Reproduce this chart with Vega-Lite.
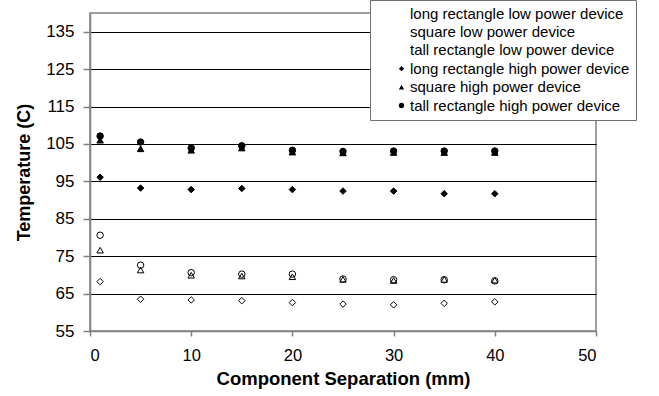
{
  "$schema": "https://vega.github.io/schema/vega-lite/v6.json",
  "autosize": "none",
  "width": 506,
  "height": 318,
  "padding": {"left": 90, "top": 13, "right": 63, "bottom": 65},
  "background": "white",
  "config": {
    "view": {"stroke": "#808080", "strokeWidth": 1.5},
    "font": "Liberation Sans"
  },
  "data": {
    "values": [
      {"sep": 1, "temp": 68.2, "series": "long rectangle low power device"},
      {"sep": 5, "temp": 63.5, "series": "long rectangle low power device"},
      {"sep": 10, "temp": 63.3, "series": "long rectangle low power device"},
      {"sep": 15, "temp": 63.1, "series": "long rectangle low power device"},
      {"sep": 20, "temp": 62.6, "series": "long rectangle low power device"},
      {"sep": 25, "temp": 62.2, "series": "long rectangle low power device"},
      {"sep": 30, "temp": 62.0, "series": "long rectangle low power device"},
      {"sep": 35, "temp": 62.4, "series": "long rectangle low power device"},
      {"sep": 40, "temp": 62.8, "series": "long rectangle low power device"},
      {"sep": 1, "temp": 76.6, "series": "square low power device"},
      {"sep": 5, "temp": 71.3, "series": "square low power device"},
      {"sep": 10, "temp": 69.9, "series": "square low power device"},
      {"sep": 15, "temp": 69.7, "series": "square low power device"},
      {"sep": 20, "temp": 69.5, "series": "square low power device"},
      {"sep": 25, "temp": 68.8, "series": "square low power device"},
      {"sep": 30, "temp": 68.5, "series": "square low power device"},
      {"sep": 35, "temp": 68.8, "series": "square low power device"},
      {"sep": 40, "temp": 68.6, "series": "square low power device"},
      {"sep": 1, "temp": 80.6, "series": "tall rectangle low power device"},
      {"sep": 5, "temp": 72.6, "series": "tall rectangle low power device"},
      {"sep": 10, "temp": 70.6, "series": "tall rectangle low power device"},
      {"sep": 15, "temp": 70.2, "series": "tall rectangle low power device"},
      {"sep": 20, "temp": 70.2, "series": "tall rectangle low power device"},
      {"sep": 25, "temp": 68.9, "series": "tall rectangle low power device"},
      {"sep": 30, "temp": 68.7, "series": "tall rectangle low power device"},
      {"sep": 35, "temp": 68.7, "series": "tall rectangle low power device"},
      {"sep": 40, "temp": 68.4, "series": "tall rectangle low power device"},
      {"sep": 1, "temp": 96.1, "series": "long rectangle high power device"},
      {"sep": 5, "temp": 93.2, "series": "long rectangle high power device"},
      {"sep": 10, "temp": 92.8, "series": "long rectangle high power device"},
      {"sep": 15, "temp": 93.1, "series": "long rectangle high power device"},
      {"sep": 20, "temp": 92.8, "series": "long rectangle high power device"},
      {"sep": 25, "temp": 92.4, "series": "long rectangle high power device"},
      {"sep": 30, "temp": 92.4, "series": "long rectangle high power device"},
      {"sep": 35, "temp": 91.7, "series": "long rectangle high power device"},
      {"sep": 40, "temp": 91.7, "series": "long rectangle high power device"},
      {"sep": 1, "temp": 106.0, "series": "square high power device"},
      {"sep": 5, "temp": 103.7, "series": "square high power device"},
      {"sep": 10, "temp": 103.3, "series": "square high power device"},
      {"sep": 15, "temp": 103.9, "series": "square high power device"},
      {"sep": 20, "temp": 102.8, "series": "square high power device"},
      {"sep": 25, "temp": 102.6, "series": "square high power device"},
      {"sep": 30, "temp": 102.7, "series": "square high power device"},
      {"sep": 35, "temp": 102.7, "series": "square high power device"},
      {"sep": 40, "temp": 102.7, "series": "square high power device"},
      {"sep": 1, "temp": 107.1, "series": "tall rectangle high power device"},
      {"sep": 5, "temp": 105.5, "series": "tall rectangle high power device"},
      {"sep": 10, "temp": 103.9, "series": "tall rectangle high power device"},
      {"sep": 15, "temp": 104.5, "series": "tall rectangle high power device"},
      {"sep": 20, "temp": 103.3, "series": "tall rectangle high power device"},
      {"sep": 25, "temp": 103.0, "series": "tall rectangle high power device"},
      {"sep": 30, "temp": 103.1, "series": "tall rectangle high power device"},
      {"sep": 35, "temp": 103.1, "series": "tall rectangle high power device"},
      {"sep": 40, "temp": 103.1, "series": "tall rectangle high power device"}
    ]
  },
  "mark": {"type": "point", "stroke": "black", "strokeWidth": 1, "opacity": 1, "size": 42},
  "encoding": {
    "x": {
      "field": "sep", "type": "quantitative",
      "scale": {"domain": [0, 50], "nice": false},
      "axis": {
        "title": "Component Separation (mm)", "values": [0, 10, 20, 30, 40, 50],
        "grid": false, "domainColor": "#808080", "domainWidth": 1.5, "tickColor": "#808080", "tickSize": 5, "tickWidth": 1.5,
        "labelFontSize": 16.5, "labelColor": "black", "labelPadding": 11,
        "titleFontSize": 18.5, "titleFontWeight": "bold", "titleColor": "black", "titlePadding": 6
      }
    },
    "y": {
      "field": "temp", "type": "quantitative",
      "scale": {"domain": [55, 140], "nice": false, "zero": false},
      "axis": {
        "title": "Temperature (C)", "values": [55, 65, 75, 85, 95, 105, 115, 125, 135],
        "grid": true, "gridColor": "black", "gridWidth": 1,
        "domainColor": "#808080", "domainWidth": 1.5, "tickColor": "#808080", "tickSize": 7, "tickWidth": 1.5,
        "labelFontSize": 17, "labelColor": "black", "labelPadding": 9,
        "titleFontSize": 18, "titleFontWeight": "bold", "titleColor": "black", "titlePadding": 12
      }
    },
    "shape": {
      "field": "series", "type": "nominal",
      "scale": {
        "domain": ["long rectangle low power device", "square low power device", "tall rectangle low power device", "long rectangle high power device", "square high power device", "tall rectangle high power device"],
        "range": ["diamond", "triangle-up", "circle", "diamond", "triangle-up", "circle"]
      },
      "legend": {
        "title": null, "orient": "none", "legendX": 280, "legendY": -13,
        "strokeColor": "#707070", "fillColor": "white", "padding": 6,
        "labelFontSize": 15, "labelColor": "black", "labelLimit": 400, "symbolSize": 28,
        "symbolStrokeColor": "black", "symbolStrokeWidth": 1, "rowPadding": 2.4, "labelOffset": 1,
        "symbolOffset": 18,
        "encode": {
          "symbols": {
            "stroke": {"value": "black"},
            "strokeWidth": {"value": 1},
            "strokeOpacity": {"value": 1}
          },
          "legend": {"strokeWidth": {"value": 1.5}}
        }
      }
    },
    "fill": {
      "field": "series", "type": "nominal",
      "scale": {
        "domain": ["long rectangle low power device", "square low power device", "tall rectangle low power device", "long rectangle high power device", "square high power device", "tall rectangle high power device"],
        "range": ["rgba(255,255,255,0)", "rgba(255,255,255,0)", "rgba(255,255,255,0)", "black", "black", "black"]
      },
      "legend": {
        "title": null, "orient": "none", "legendX": 280, "legendY": -13,
        "strokeColor": "#707070", "fillColor": "white", "padding": 6,
        "labelFontSize": 15, "labelColor": "black", "labelLimit": 400, "symbolSize": 28,
        "symbolStrokeColor": "black", "symbolStrokeWidth": 1, "rowPadding": 2.4, "labelOffset": 1,
        "symbolOffset": 18,
        "encode": {
          "symbols": {
            "stroke": {"value": "black"},
            "strokeWidth": {"value": 1},
            "strokeOpacity": {"value": 1}
          },
          "legend": {"strokeWidth": {"value": 1.5}}
        }
      }
    }
  }
}
